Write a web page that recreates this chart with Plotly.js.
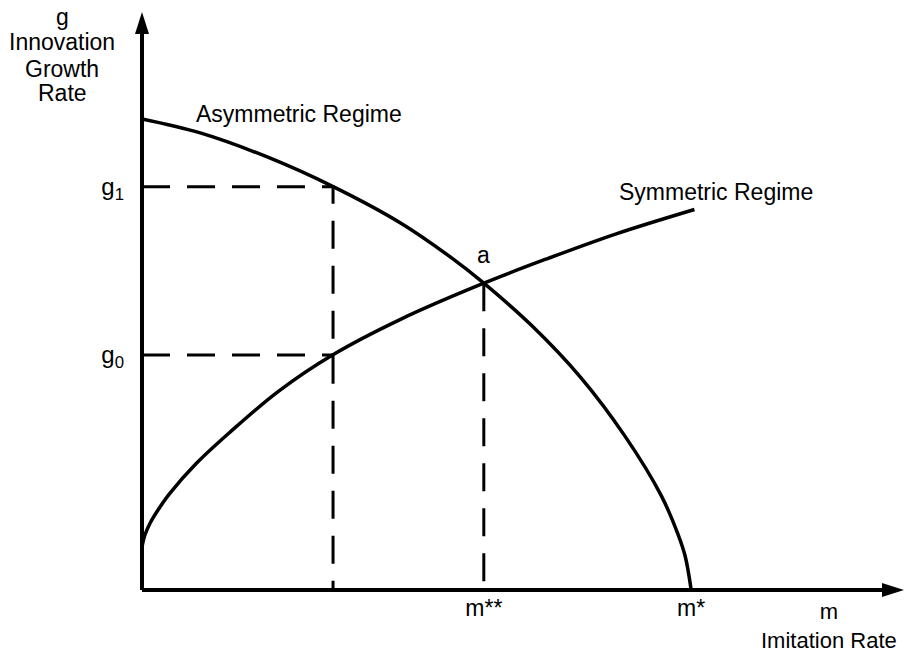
<!DOCTYPE html>
<html>
<head>
<meta charset="utf-8">
<script src="https://cdn.plot.ly/plotly-3.0.1.min.js"></script>
<style>
  html, body { margin: 0; padding: 0; background: #ffffff; }
  #chart { width: 907px; height: 655px; }
</style>
</head>
<body>
<div id="chart"></div>
<script>
// Asymmetric regime curve (imitation rate m, innovation growth rate g)
const asymM = [0, 1.07, 2.30, 3.52, 4.75, 5.67, 6.28, 7.15, 8.07, 8.87, 9.54, 9.85, 9.98, 10.09];
const asymG = [9.78, 9.49, 8.99, 8.37, 7.62, 6.91, 6.37, 5.50, 4.40, 3.20, 1.96, 1.15, 0.70, 0];
// Symmetric regime curve
const symM = [0, 0.05, 0.15, 0.3, 0.5, 1.0, 1.6, 2.5, 3.5, 4.75, 6.28, 7.45, 8.7, 10.15];
const symG = [0.89, 1.13, 1.39, 1.67, 1.99, 2.63, 3.26, 4.12, 4.88, 5.62, 6.37, 6.88, 7.39, 7.90];
// Key levels
const mLevels = [3.51, 6.28, 10.09];          // m1, m**, m*
const gLevels = [4.88, 8.37];                 // g0, g1
const aPoint = [6.28, 6.37];                  // intersection a
const xTickVals = [6.28, 10.09];
const xTickText = ['m**', 'm*'];
const yTickVals = [4.88, 8.37];
const yTickText = ['g<sub>0</sub>', 'g<sub>1</sub>'];
const xRange = [0, 14];
const yRange = [0, 12];

const FONT = 'Arial, "Liberation Sans", sans-serif';
const black = '#000000';

const traces = [
  { x: asymM, y: asymG, mode: 'lines', line: { color: black, width: 3.5, shape: 'spline', smoothing: 1 }, hoverinfo: 'skip' },
  { x: symM, y: symG, mode: 'lines', line: { color: black, width: 3.5, shape: 'spline', smoothing: 1 }, hoverinfo: 'skip' },
  { x: [0, mLevels[0], mLevels[0]], y: [gLevels[1], gLevels[1], 0], mode: 'lines', line: { color: black, width: 3, dash: '28px,17px' }, hoverinfo: 'skip' },
  { x: [0, mLevels[0]], y: [gLevels[0], gLevels[0]], mode: 'lines', line: { color: black, width: 3, dash: '28px,17px' }, hoverinfo: 'skip' },
  { x: [aPoint[0], aPoint[0]], y: [aPoint[1], 0], mode: 'lines', line: { color: black, width: 3, dash: '28px,17px' }, hoverinfo: 'skip' }
];

// paper helpers (plot area 142..904 x 12..590 px)
const L = 142, R = 3, T = 12, B = 65, W = 907, H = 655;
const PW = W - L - R, PH = H - T - B;
const px = v => (v - L) / PW;
const py = v => (H - B - v) / PH;

const txt = (text, x, y, xanchor, size) => ({
  text: text, xref: 'paper', yref: 'paper', x: px(x), y: py(y),
  xanchor: xanchor || 'center', yanchor: 'middle', showarrow: false,
  font: { family: FONT, size: size || 23, color: black }
});

const layout = {
  width: W, height: H,
  margin: { l: L, r: R, t: T, b: B, pad: 0 },
  paper_bgcolor: '#ffffff', plot_bgcolor: '#ffffff',
  showlegend: false,
  font: { family: FONT, size: 23, color: black },
  xaxis: {
    range: xRange, showgrid: false, zeroline: false, showline: false,
    tickvals: xTickVals, ticktext: xTickText, ticks: '',
    ticklabelstandoff: 2,
    tickfont: { family: FONT, size: 23, color: black }, fixedrange: true
  },
  yaxis: {
    range: yRange, showgrid: false, zeroline: false, showline: false,
    tickvals: yTickVals, ticktext: yTickText, ticks: '',
    ticklabelstandoff: 17,
    tickfont: { family: FONT, size: 24, color: black }, fixedrange: true
  },
  shapes: [
    { type: 'line', xref: 'paper', yref: 'paper', x0: 0, y0: 0, x1: 0.985, y1: 0, line: { color: black, width: 4 } },
    { type: 'line', xref: 'paper', yref: 'paper', x0: 0, y0: 0, x1: 0, y1: 0.97, line: { color: black, width: 4 } },
    { type: 'path', xref: 'paper', yref: 'paper', xsizemode: 'pixel', ysizemode: 'pixel',
      xanchor: 1, yanchor: 0, path: 'M0,0 L-22,7 L-22,-7 Z', fillcolor: black, line: { width: 0 } },
    { type: 'path', xref: 'paper', yref: 'paper', xsizemode: 'pixel', ysizemode: 'pixel',
      xanchor: 0, yanchor: 1, path: 'M0,0 L-7,-22 L7,-22 Z', fillcolor: black, line: { width: 0 } }
  ],
  annotations: [
    txt('g', 62, 17),
    txt('Innovation', 62, 42),
    txt('Growth', 62, 69),
    txt('Rate', 62, 93),
    txt('Asymmetric Regime', 194, 114, 'left'),
    txt('Symmetric Regime', 617, 192, 'left'),
    txt('m<br>Imitation Rate', 829, 626, 'center', 22),
    { text: 'a', x: aPoint[0], y: aPoint[1], xref: 'x', yref: 'y', showarrow: false,
      xanchor: 'center', yanchor: 'middle', yshift: 28, font: { family: FONT, size: 23, color: black } }
  ]
};

Plotly.newPlot('chart', traces, layout, { staticPlot: true, displayModeBar: false });
</script>
</body>
</html>
